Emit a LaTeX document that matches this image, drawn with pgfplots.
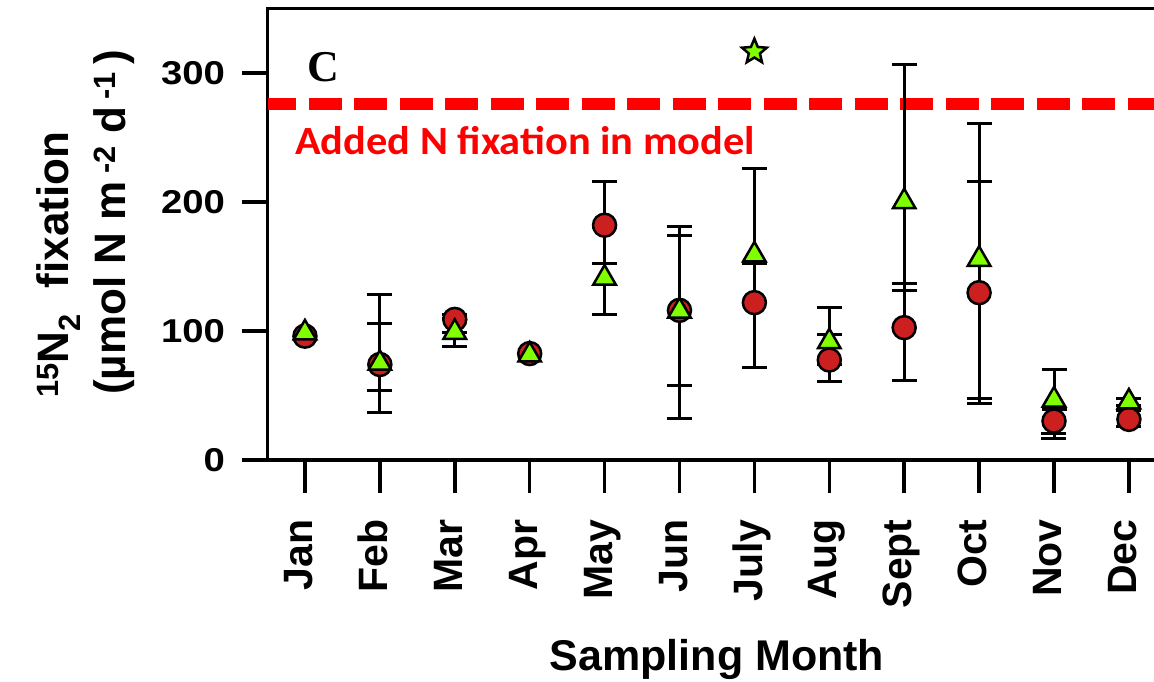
\documentclass[border=0pt]{standalone}
\usepackage{fontspec}
\setmainfont{Liberation Sans}
\newfontfamily\serifbold{Liberation Serif}
\newfontfamily\calibri{Carlito}
\usepackage{graphicx}
\usepackage{pgfplots}
\usepackage{pgfplotstable}
\pgfplotsset{compat=1.18}

\definecolor{circred}{RGB}{204,32,32}
\definecolor{trigreen}{RGB}{127,255,0}
\definecolor{modelred}{RGB}{255,0,0}

% filled five-pointed star
\pgfdeclareplotmark{fivestar}{%
  \pgfpathmoveto{\pgfpointpolar{90}{\pgfplotmarksize}}%
  \pgfpathlineto{\pgfpointpolar{126}{0.45\pgfplotmarksize}}%
  \pgfpathlineto{\pgfpointpolar{162}{\pgfplotmarksize}}%
  \pgfpathlineto{\pgfpointpolar{198}{0.45\pgfplotmarksize}}%
  \pgfpathlineto{\pgfpointpolar{234}{\pgfplotmarksize}}%
  \pgfpathlineto{\pgfpointpolar{270}{0.45\pgfplotmarksize}}%
  \pgfpathlineto{\pgfpointpolar{306}{\pgfplotmarksize}}%
  \pgfpathlineto{\pgfpointpolar{342}{0.45\pgfplotmarksize}}%
  \pgfpathlineto{\pgfpointpolar{18}{\pgfplotmarksize}}%
  \pgfpathlineto{\pgfpointpolar{54}{0.45\pgfplotmarksize}}%
  \pgfpathclose
  \pgfusepathqfillstroke}

\newcommand\ys[1]{\scalebox{1.16}[1]{#1}}

% month index, mean, upper and lower error
\pgfplotstableread{
x y ep em
0 96 0 0
1 74 32 20
2 109 3.5 10.5
3 82.5 0 0
4 182 34 30
5 116 58 58
6 122 30 50
7 77.5 20 17
8 102.6 34.4 40.6
9 129.7 86 82
10 30.2 9 9.5
11 31.5 6.5 5.7
}\circdata

\pgfplotstableread{
x y ep em
0 98.5 0 0
1 75 53 38
2 99 11 11
3 81.4 0 0
4 141 39 28
5 115.5 65.4 83.7
6 159 67 36
7 91.7 26.3 18
8 200.2 106 69
9 155.6 105 112
10 46.5 23.8 29.7
11 45 2.5 2.5
}\tridata

\pgfplotstableread{
x y
6 316.5
}\stardata

\begin{document}
\begin{tikzpicture}[x=1pt,y=1pt]
\useasboundingbox (0,0) rectangle (1154,682);
\begin{axis}[
  at={(267.5pt,222pt)}, anchor=south west,
  scale only axis, width=895.1pt, height=451.5pt,
  xmin=-0.5, xmax=11.45, ymin=0, ymax=350,
  axis line style={line width=3.5pt, black},
  tick align=outside, xtick pos=bottom, ytick pos=left,
  major tick style={line width=3.5pt, black},
  xtick style={/pgfplots/major tick length=33pt},
  ytick style={/pgfplots/major tick length=25pt},
  xtick={0,...,11},
  xticklabels={Jan,Feb,Mar,Apr,May,Jun,July,Aug,Sept,Oct,Nov,Dec},
  ytick={0,100,200,300},
  yticklabels={\ys{0},\ys{100},\ys{200},\ys{300}},
  xticklabel style={font=\bfseries\fontsize{41}{41}\selectfont, rotate=90, anchor=mid east, inner sep=0pt, xshift=-55pt, yshift=-5pt},
  yticklabel style={font=\bfseries\fontsize{33}{33}\selectfont, anchor=east, inner sep=0pt, xshift=-38pt},
  error bars/error bar style={line width=3pt, black},
  error bars/error mark options={rotate=90, mark size=12.5pt, line width=3pt, black},
]
% model N fixation level
\addplot[modelred, line width=12pt, dash pattern=on 33pt off 12.5pt, dash phase=4.5pt] coordinates {(-0.5,276) (11.45,276)};

% red circles
\addplot[draw=none, mark=none, skip coords between index={0}{1}, skip coords between index={3}{4},
  error bars/.cd, y dir=both, y explicit]
  table[x=x, y=y, y error plus=ep, y error minus=em] {\circdata};
\addplot[only marks, mark=*, mark size=11.5pt, mark options={fill=circred, draw=black, line width=2.5pt}]
  table[x=x, y=y] {\circdata};

% green triangles
\addplot[draw=none, mark=none, skip coords between index={0}{1}, skip coords between index={3}{4},
  error bars/.cd, y dir=both, y explicit]
  table[x=x, y=y, y error plus=ep, y error minus=em] {\tridata};
\addplot[only marks, mark=triangle*, mark size=13pt, mark options={fill=trigreen, draw=black, line width=2.5pt}]
  table[x=x, y=y] {\tridata};

% outlier
\addplot[only marks, mark=fivestar, mark size=13pt, mark options={fill=trigreen, draw=black, line width=2.5pt}]
  table[x=x, y=y] {\stardata};
\end{axis}

\node[anchor=base west, inner sep=0pt, font=\serifbold\bfseries\fontsize{44}{44}\selectfont] at (307,600) {C};
\node[anchor=base west, inner sep=0pt, text=modelred, font=\calibri\bfseries\fontsize{40}{40}\selectfont] at (295,527) {\scalebox{1.06}[1]{Added N fixation in model}};

\node[rotate=90, anchor=base west, inner sep=0pt, font=\bfseries\fontsize{44}{44}\selectfont] at (68,284) {\textsuperscript{15}N\textsubscript{2}\hspace{0.3em} fixation};
\node[rotate=90, anchor=base west, inner sep=0pt, font=\bfseries\fontsize{44}{44}\selectfont] at (125,287) {(µmol N m\,\textsuperscript{-2} d\,\textsuperscript{-1}\,)};

\node[anchor=base, inner sep=0pt, font=\bfseries\fontsize{43}{43}\selectfont] at (717,11) {Sampling Month};
\end{tikzpicture}
\end{document}
